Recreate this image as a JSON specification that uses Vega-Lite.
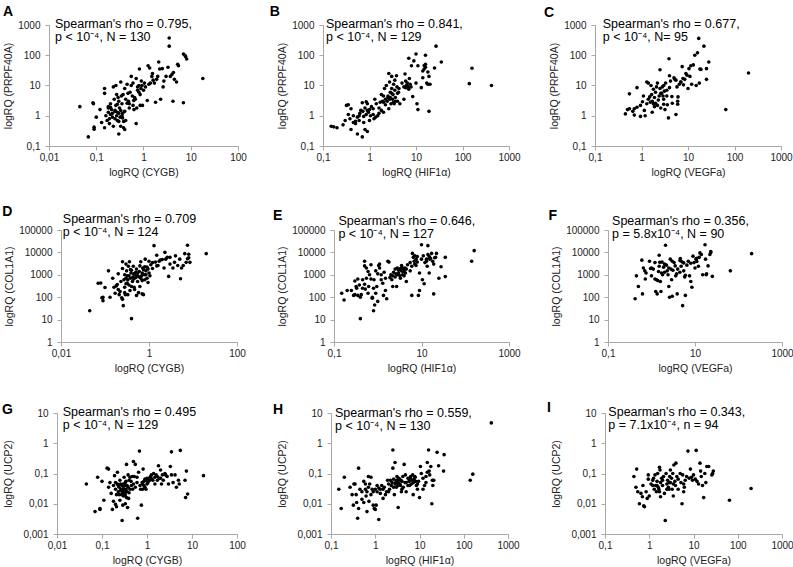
{
"$schema": "https://vega.github.io/schema/vega-lite/v6.json",
"background": "white",
"padding": {"left": 1, "top": 4, "right": 0, "bottom": 0},
"config": {
  "view": {"stroke": null},
  "font": "Liberation Sans",
  "axis": {"grid": false, "domainColor": "#a8a8a8", "tickColor": "#a8a8a8", "tickSize": 4,
    "labelFont": "Liberation Sans", "labelFontSize": 10, "labelColor": "#222",
    "titleFont": "Liberation Sans", "titleFontSize": 10.5, "titleFontWeight": "normal", "titleColor": "#222",
    "labelOverlap": false, "labelFlush": false},
  "axisX": {"titlePadding": 5, "labelPadding": 2},
  "axisY": {"titlePadding": 4, "labelPadding": 5},
  "text": {"font": "Liberation Sans"}
},
"datasets": {
"A": [{"x":0.045,"y":2.0},{"x":0.068,"y":0.2},{"x":0.085,"y":2.7},{"x":0.087,"y":2.5},{"x":0.09,"y":0.42},{"x":0.09,"y":0.36},{"x":0.1,"y":0.9},
{"x":0.12,"y":1.6},{"x":0.13,"y":0.6},{"x":0.15,"y":8},{"x":0.15,"y":5.5},{"x":0.15,"y":0.4},{"x":0.16,"y":1.0},{"x":0.17,"y":0.7},{"x":0.18,"y":1.8},{"x":0.18,"y":2.0},{"x":0.18,"y":1.3},{"x":0.19,"y":0.55},{"x":0.19,"y":0.8},{"x":0.2,"y":2.5},{"x":0.2,"y":1.1},
{"x":0.21,"y":1.6},{"x":0.22,"y":0.9},{"x":0.22,"y":1.2},{"x":0.23,"y":9},{"x":0.23,"y":0.45},{"x":0.24,"y":3.5},{"x":0.25,"y":1.4},{"x":0.25,"y":0.8},{"x":0.26,"y":10},{"x":0.26,"y":2.2},{"x":0.27,"y":1.0},{"x":0.27,"y":5},{"x":0.28,"y":0.7},{"x":0.28,"y":2.4},{"x":0.29,"y":4},{"x":0.3,"y":0.25},{"x":0.3,"y":1.2},{"x":0.3,"y":0.65},{"x":0.3,"y":3},
{"x":0.31,"y":1.8},{"x":0.32,"y":0.9},{"x":0.33,"y":13},{"x":0.33,"y":0.45},{"x":0.34,"y":4.5},{"x":0.35,"y":2.5},{"x":0.35,"y":1.0},{"x":0.36,"y":0.85},{"x":0.37,"y":5},{"x":0.38,"y":0.4},{"x":0.38,"y":0.65},{"x":0.4,"y":0.35},{"x":0.4,"y":8},{"x":0.4,"y":1.4},{"x":0.42,"y":0.7},{"x":0.42,"y":3.5},{"x":0.45,"y":2.6},{"x":0.45,"y":11},{"x":0.47,"y":5.5},{"x":0.48,"y":3},{"x":0.5,"y":1.8},{"x":0.5,"y":2.5},
{"x":0.52,"y":6},{"x":0.55,"y":10},{"x":0.55,"y":20},{"x":0.58,"y":4.5},{"x":0.6,"y":2.2},{"x":0.62,"y":3.2},{"x":0.63,"y":1.6},{"x":0.65,"y":4},{"x":0.67,"y":3.5},{"x":0.7,"y":17},{"x":0.7,"y":0.55},{"x":0.72,"y":1.8},{"x":0.75,"y":9},{"x":0.75,"y":7},{"x":0.8,"y":10},{"x":0.8,"y":6},{"x":0.82,"y":35},{"x":0.85,"y":2.2},{"x":0.88,"y":8},{"x":0.9,"y":14},{"x":0.93,"y":10},{"x":0.95,"y":2.2},
{"x":1.05,"y":12},{"x":1.1,"y":9},{"x":1.2,"y":3.2},{"x":1.25,"y":45},{"x":1.3,"y":11},{"x":1.35,"y":38},{"x":1.4,"y":12},{"x":1.5,"y":20},{"x":1.55,"y":25},{"x":1.6,"y":15},{"x":1.7,"y":12},{"x":1.8,"y":2.8},{"x":1.9,"y":16},{"x":2.0,"y":20},{"x":2.1,"y":60},
{"x":2.2,"y":35},{"x":2.3,"y":3.5},{"x":2.5,"y":36},{"x":2.6,"y":9},{"x":2.7,"y":14},{"x":3,"y":20},{"x":3.3,"y":40},{"x":3.5,"y":370},{"x":3.5,"y":200},{"x":3.7,"y":20},{"x":4,"y":23},{"x":4.2,"y":3},{"x":4.3,"y":27},{"x":4.5,"y":16},{"x":5,"y":13},{"x":5.3,"y":50},{"x":5.5,"y":45},
{"x":7,"y":2.7},{"x":7,"y":110},{"x":7.5,"y":100},{"x":7.8,"y":90},{"x":8.2,"y":75},{"x":18,"y":17},
{"x":0.25,"y":1.5},{"x":0.28,"y":1.3},{"x":0.33,"y":1.5},{"x":0.36,"y":1.2},{"x":0.6,"y":12},{"x":1.0,"y":7},{"x":0.85,"y":5},{"x":0.2,"y":1.9}],
"B": [{"x":0.15,"y":0.45},{"x":0.17,"y":0.43},{"x":0.2,"y":0.4},{"x":0.27,"y":0.5},{"x":0.3,"y":0.7},{"x":0.32,"y":2.2},{"x":0.35,"y":2.3},{"x":0.35,"y":1.1},{"x":0.38,"y":0.8},{"x":0.4,"y":0.35},
{"x":0.4,"y":1.7},{"x":0.45,"y":0.6},{"x":0.45,"y":1.0},{"x":0.5,"y":0.65},{"x":0.55,"y":0.25},{"x":0.55,"y":0.9},{"x":0.6,"y":0.7},{"x":0.62,"y":1.2},{"x":0.65,"y":1.5},{"x":0.7,"y":0.2},
{"x":0.7,"y":2.7},{"x":0.72,"y":1.4},{"x":0.75,"y":0.95},{"x":0.8,"y":0.35},{"x":0.8,"y":1.8},{"x":0.85,"y":2.9},{"x":0.85,"y":1.1},{"x":0.9,"y":0.3},{"x":0.9,"y":2.5},{"x":0.95,"y":1.3},
{"x":1.0,"y":0.7},{"x":1.05,"y":1.0},{"x":1.1,"y":2.0},{"x":1.2,"y":1.7},{"x":1.25,"y":0.8},{"x":1.3,"y":3.5},{"x":1.35,"y":0.9},{"x":1.4,"y":2.5},{"x":1.5,"y":1.0},{"x":1.6,"y":1.8},
{"x":1.7,"y":2.8},{"x":1.8,"y":1.5},{"x":1.8,"y":5},{"x":1.9,"y":3.0},{"x":2.0,"y":1.3},{"x":2.0,"y":4.5},{"x":2.1,"y":8},{"x":2.2,"y":2.3},{"x":2.3,"y":10},{"x":2.4,"y":3},
{"x":2.5,"y":4},{"x":2.6,"y":25},{"x":2.6,"y":1.7},{"x":2.7,"y":13},{"x":2.8,"y":6},{"x":2.9,"y":2.5},{"x":3.0,"y":20},{"x":3.0,"y":8},{"x":3.1,"y":3.5},{"x":3.2,"y":5},
{"x":3.3,"y":11},{"x":3.4,"y":2.5},{"x":3.5,"y":7},{"x":3.5,"y":15},{"x":3.6,"y":4},{"x":3.8,"y":21},{"x":3.9,"y":9},{"x":4.0,"y":3},{"x":4.2,"y":6},{"x":4.3,"y":8},
{"x":4.5,"y":2.5},{"x":5.0,"y":12},{"x":5.5,"y":3.5},{"x":5.8,"y":24},{"x":6.0,"y":14},{"x":6.2,"y":10},{"x":6.5,"y":12},{"x":6.8,"y":9},{"x":7.0,"y":80},{"x":7.2,"y":17},
{"x":7.5,"y":11},{"x":7.8,"y":9},{"x":8.0,"y":45},{"x":8.5,"y":4.3},{"x":9.0,"y":65},{"x":10,"y":110},{"x":10,"y":12},{"x":10.5,"y":2.5},{"x":11,"y":1.6},{"x":11,"y":45},
{"x":13,"y":8.5},{"x":14,"y":18},{"x":15,"y":35},{"x":15,"y":46},{"x":16,"y":100},{"x":16,"y":40},{"x":17,"y":12},{"x":18,"y":28},{"x":18,"y":11},{"x":19,"y":1.4},
{"x":19,"y":20},{"x":20,"y":11},{"x":25,"y":38},{"x":27,"y":200},{"x":35,"y":60},{"x":140,"y":11.5},{"x":160,"y":37},{"x":420,"y":10},
{"x":2.5,"y":4.5},{"x":2.7,"y":3.5},{"x":3.0,"y":5.5},{"x":3.3,"y":2.8},{"x":2.2,"y":3.5},{"x":1.6,"y":1.2},{"x":1.2,"y":1.1},{"x":0.9,"y":1.5},{"x":0.6,"y":1.0},{"x":0.5,"y":0.55},
{"x":5.5,"y":9},{"x":6,"y":8.5},{"x":7,"y":7.5},{"x":4,"y":5.5},{"x":3.6,"y":3},{"x":2.0,"y":2.8},{"x":14,"y":30},{"x":16,"y":50},{"x":1.0,"y":1.6},{"x":0.75,"y":0.6},{"x":2.8,"y":4}],
"C": [{"x":0.45,"y":1.15},{"x":0.5,"y":1.6},{"x":0.55,"y":5.3},{"x":0.55,"y":1.7},{"x":0.65,"y":1.4},{"x":0.7,"y":1.05},{"x":0.7,"y":1.7},{"x":0.8,"y":1.9},{"x":0.8,"y":8.5},{"x":0.95,"y":0.95},
{"x":0.95,"y":2.2},{"x":1.05,"y":2.9},{"x":1.1,"y":4.5},{"x":1.15,"y":1.5},{"x":1.2,"y":1.0},{"x":1.3,"y":13},{"x":1.3,"y":2.5},{"x":1.4,"y":3.5},{"x":1.4,"y":12},{"x":1.5,"y":4.2},
{"x":1.55,"y":2.8},{"x":1.6,"y":10},{"x":1.65,"y":5},{"x":1.7,"y":1.3},{"x":1.7,"y":3},{"x":1.8,"y":2.5},{"x":1.8,"y":7.5},{"x":1.9,"y":4},{"x":2.0,"y":2.6},{"x":2.0,"y":6},
{"x":2.1,"y":9},{"x":2.2,"y":2.2},{"x":2.3,"y":3.3},{"x":2.5,"y":33},{"x":2.5,"y":8},{"x":2.6,"y":1.8},{"x":2.7,"y":5.5},{"x":2.8,"y":9},{"x":2.9,"y":4.5},{"x":3.0,"y":2.4},
{"x":3.0,"y":10},{"x":3.1,"y":6.5},{"x":3.2,"y":1.6},{"x":3.3,"y":12},{"x":3.5,"y":7},{"x":3.6,"y":2.3},{"x":3.8,"y":0.85},{"x":3.9,"y":77},{"x":4.0,"y":21},{"x":4.0,"y":8.5},
{"x":4.2,"y":14},{"x":4.5,"y":4.3},{"x":4.6,"y":2.6},{"x":5.0,"y":18},{"x":5.2,"y":16},{"x":5.5,"y":1.1},{"x":5.8,"y":9},{"x":6.0,"y":3.0},{"x":6.0,"y":2.4},{"x":6.1,"y":4.2},
{"x":6.5,"y":11},{"x":7.0,"y":13},{"x":7.5,"y":42},{"x":7.8,"y":17},{"x":8.0,"y":10.5},{"x":8.5,"y":16},{"x":9.0,"y":25},{"x":9.5,"y":22},{"x":10,"y":8},{"x":10.5,"y":36},
{"x":11,"y":20},{"x":11.5,"y":45},{"x":12,"y":11},{"x":13,"y":48},{"x":14,"y":100},{"x":15,"y":10},{"x":16,"y":120},{"x":17,"y":360},{"x":17.5,"y":12},{"x":18,"y":35},
{"x":19,"y":34},{"x":22,"y":200},{"x":25,"y":16},{"x":25,"y":36},{"x":28,"y":60},{"x":65,"y":1.6},{"x":200,"y":26},
{"x":2.4,"y":4.5},{"x":2.6,"y":5.5},{"x":1.9,"y":2.0},{"x":3.5,"y":4.5},{"x":2.2,"y":12},{"x":5.5,"y":15},{"x":7,"y":13},{"x":3.0,"y":3.5}],
"D": [{"x":0.045,"y":25},{"x":0.07,"y":420},{"x":0.08,"y":430},{"x":0.085,"y":95},{"x":0.09,"y":100},{"x":0.09,"y":70},{"x":0.1,"y":270},
{"x":0.12,"y":1500},{"x":0.13,"y":100},{"x":0.15,"y":700},{"x":0.16,"y":280},{"x":0.17,"y":150},{"x":0.18,"y":320},{"x":0.19,"y":370},{"x":0.2,"y":220},{"x":0.2,"y":1100},
{"x":0.21,"y":130},{"x":0.22,"y":180},{"x":0.23,"y":500},{"x":0.24,"y":95},{"x":0.25,"y":3800},{"x":0.25,"y":80},{"x":0.25,"y":1900},{"x":0.26,"y":42},
{"x":0.27,"y":600},{"x":0.28,"y":280},{"x":0.28,"y":1000},{"x":0.29,"y":130},{"x":0.3,"y":3000},{"x":0.3,"y":700},{"x":0.31,"y":1500},{"x":0.32,"y":430},{"x":0.33,"y":130},{"x":0.33,"y":600},
{"x":0.34,"y":2400},{"x":0.35,"y":900},{"x":0.36,"y":3800},{"x":0.37,"y":200},{"x":0.38,"y":700},{"x":0.39,"y":1200},{"x":0.4,"y":11},{"x":0.4,"y":1600},{"x":0.42,"y":500},{"x":0.43,"y":800},
{"x":0.44,"y":2400},{"x":0.45,"y":650},{"x":0.46,"y":280},{"x":0.48,"y":1000},{"x":0.5,"y":750},{"x":0.52,"y":120},{"x":0.52,"y":1800},{"x":0.55,"y":900},{"x":0.6,"y":1400},{"x":0.62,"y":300},
{"x":0.65,"y":3800},{"x":0.65,"y":700},{"x":0.7,"y":140},{"x":0.7,"y":1200},{"x":0.72,"y":2000},{"x":0.75,"y":130},{"x":0.78,"y":1000},{"x":0.8,"y":600},{"x":0.8,"y":2300},{"x":0.82,"y":5000},
{"x":0.85,"y":1500},{"x":0.9,"y":700},{"x":0.95,"y":450},{"x":1.0,"y":1200},{"x":1.0,"y":4000},{"x":1.2,"y":3500},{"x":1.3,"y":20000},{"x":1.4,"y":3700},{"x":1.5,"y":7500},{"x":1.6,"y":2600},
{"x":1.7,"y":4000},{"x":1.8,"y":4500},{"x":2.0,"y":4800},{"x":2.2,"y":2000},{"x":2.3,"y":10000},{"x":2.4,"y":5000},{"x":2.6,"y":6000},{"x":2.8,"y":850},{"x":3.0,"y":3000},{"x":3.0,"y":6000},
{"x":3.5,"y":2000},{"x":3.8,"y":3600},{"x":4.0,"y":7000},{"x":4.5,"y":2600},{"x":5.0,"y":5000},{"x":5.2,"y":670},{"x":5.5,"y":2000},{"x":6.0,"y":2600},{"x":6.5,"y":8800},{"x":7,"y":3600},
{"x":7.5,"y":5200},{"x":7.5,"y":21000},{"x":8,"y":5800},{"x":8,"y":8300},{"x":8.5,"y":3600},{"x":20,"y":8800},
{"x":0.3,"y":400},{"x":0.35,"y":350},{"x":0.4,"y":300},{"x":0.45,"y":1100},{"x":0.5,"y":1300},{"x":0.55,"y":500},{"x":0.6,"y":800},{"x":0.62,"y":2500},{"x":0.68,"y":900},{"x":0.75,"y":1700},
{"x":0.85,"y":1000},{"x":0.9,"y":2200},{"x":0.38,"y":1700},{"x":0.28,"y":160},{"x":0.32,"y":900},{"x":1.1,"y":2800},{"x":1.2,"y":1900},{"x":1.5,"y":2500},{"x":0.7,"y":550},{"x":0.55,"y":1200},
{"x":0.47,"y":220},{"x":0.58,"y":160},{"x":0.95,"y":1800},{"x":1.05,"y":900}],
"E": [{"x":0.15,"y":150},{"x":0.17,"y":75},{"x":0.2,"y":200},{"x":0.25,"y":200},{"x":0.28,"y":120},{"x":0.3,"y":530},{"x":0.3,"y":130},{"x":0.32,"y":300},{"x":0.33,"y":250},{"x":0.35,"y":650},
{"x":0.35,"y":120},{"x":0.38,"y":350},{"x":0.4,"y":11},{"x":0.4,"y":100},{"x":0.42,"y":130},{"x":0.45,"y":600},{"x":0.5,"y":4000},{"x":0.5,"y":2500},{"x":0.5,"y":380},{"x":0.52,"y":230},
{"x":0.55,"y":2000},{"x":0.55,"y":700},{"x":0.6,"y":1400},{"x":0.6,"y":150},{"x":0.62,"y":300},{"x":0.65,"y":1000},{"x":0.7,"y":650},{"x":0.75,"y":90},{"x":0.75,"y":100},{"x":0.8,"y":25},
{"x":0.8,"y":250},{"x":0.82,"y":600},{"x":0.85,"y":45},{"x":0.9,"y":150},{"x":0.95,"y":300},{"x":1.0,"y":1100},{"x":1.0,"y":65},{"x":1.05,"y":2600},{"x":1.1,"y":3000},{"x":1.1,"y":2000},
{"x":1.2,"y":1000},{"x":1.3,"y":420},{"x":1.35,"y":120},{"x":1.4,"y":1300},{"x":1.5,"y":700},{"x":1.6,"y":85},{"x":1.7,"y":4000},{"x":1.8,"y":3700},{"x":1.9,"y":750},{"x":2.0,"y":1000},
{"x":2.1,"y":600},{"x":2.2,"y":300},{"x":2.3,"y":1300},{"x":2.5,"y":1800},{"x":2.6,"y":1100},{"x":2.7,"y":300},{"x":2.8,"y":2000},{"x":3.0,"y":1600},{"x":3.2,"y":900},{"x":3.3,"y":1900},
{"x":3.5,"y":1500},{"x":3.6,"y":2100},{"x":3.7,"y":1000},{"x":3.8,"y":1400},{"x":4.0,"y":1500},{"x":4.2,"y":2000},{"x":4.3,"y":1200},{"x":4.5,"y":500},{"x":5.5,"y":3500},{"x":6.0,"y":120},
{"x":6.0,"y":2400},{"x":6.2,"y":9000},{"x":6.5,"y":6000},{"x":6.8,"y":4000},{"x":7.0,"y":3000},{"x":7.5,"y":5000},{"x":8.0,"y":3700},{"x":8.5,"y":120},{"x":9,"y":1200},{"x":9,"y":200},
{"x":10,"y":22000},{"x":10,"y":5000},{"x":10.5,"y":600},{"x":11,"y":7000},{"x":11.5,"y":400},{"x":13,"y":4000},{"x":13.5,"y":2400},{"x":14,"y":20000},{"x":14,"y":8000},{"x":15,"y":1200},
{"x":15.5,"y":5000},{"x":16,"y":5500},{"x":17,"y":9000},{"x":18,"y":4000},{"x":19,"y":3000},{"x":19,"y":140},{"x":20,"y":5800},{"x":21,"y":6000},{"x":22,"y":9000},{"x":25,"y":700},
{"x":28,"y":2300},{"x":35,"y":6000},{"x":35,"y":830},{"x":140,"y":4000},{"x":160,"y":12000},
{"x":2.5,"y":800},{"x":3.0,"y":1200},{"x":3.3,"y":700},{"x":3.5,"y":2600},{"x":4.0,"y":900},{"x":4.5,"y":1800},{"x":3.8,"y":1700},{"x":2.8,"y":1000},{"x":2.2,"y":900},{"x":1.2,"y":600},
{"x":1.5,"y":200},{"x":0.9,"y":1500},{"x":0.7,"y":2800},{"x":0.45,"y":250},{"x":7.0,"y":7000},{"x":7.5,"y":2600},{"x":8,"y":6500},{"x":12,"y":3500},{"x":13,"y":5000},{"x":15,"y":6500},
{"x":5.5,"y":1500},{"x":4.8,"y":2800}],
"F": [{"x":0.42,"y":85},{"x":0.45,"y":900},{"x":0.5,"y":300},{"x":0.6,"y":4500},{"x":0.62,"y":140},{"x":0.65,"y":2000},{"x":0.7,"y":1500},{"x":0.72,"y":650},{"x":0.75,"y":1200},{"x":0.9,"y":4000},
{"x":0.95,"y":1900},{"x":1.0,"y":2000},{"x":1.1,"y":1800},{"x":1.2,"y":3500},{"x":1.2,"y":650},{"x":1.25,"y":180},{"x":1.3,"y":600},{"x":1.35,"y":140},{"x":1.4,"y":550},{"x":1.45,"y":1400},
{"x":1.5,"y":7500},{"x":1.55,"y":3600},{"x":1.6,"y":500},{"x":1.65,"y":180},{"x":1.7,"y":1200},{"x":1.75,"y":3700},{"x":1.8,"y":1000},{"x":1.9,"y":2200},{"x":2.0,"y":1300},{"x":2.1,"y":21000},
{"x":2.2,"y":2700},{"x":2.3,"y":1500},{"x":2.4,"y":1000},{"x":2.5,"y":300},{"x":2.6,"y":100},{"x":2.7,"y":5000},{"x":2.8,"y":1800},{"x":2.9,"y":600},{"x":3.0,"y":110},{"x":3.1,"y":1600},
{"x":3.3,"y":3500},{"x":3.5,"y":2500},{"x":3.6,"y":900},{"x":3.8,"y":1100},{"x":3.9,"y":140},{"x":4.5,"y":4300},{"x":4.5,"y":1300},{"x":4.6,"y":5300},{"x":4.8,"y":2400},{"x":5.0,"y":3800},
{"x":5.2,"y":42},{"x":5.5,"y":3400},{"x":5.8,"y":800},{"x":6.0,"y":950},{"x":6.0,"y":120},{"x":6.5,"y":2700},{"x":7.0,"y":4000},{"x":7.5,"y":900},{"x":8.0,"y":500},{"x":8.5,"y":280},
{"x":9.0,"y":6800},{"x":9.5,"y":3500},{"x":10,"y":2000},{"x":10.5,"y":5000},{"x":11,"y":5500},{"x":12,"y":2400},{"x":12.5,"y":6000},{"x":13,"y":9500},{"x":14,"y":8000},{"x":15,"y":1000},
{"x":17,"y":22000},{"x":17.5,"y":5000},{"x":18,"y":1000},{"x":18.5,"y":1100},{"x":20,"y":2500},{"x":22,"y":8000},{"x":23,"y":11000},{"x":23,"y":10000},{"x":25,"y":850},{"x":65,"y":1500},{"x":200,"y":8800},
{"x":1.0,"y":900},{"x":1.5,"y":2400},{"x":2.0,"y":3000},{"x":2.5,"y":2000},{"x":3.0,"y":4000},{"x":4.0,"y":1800},{"x":5.5,"y":1500},{"x":8.0,"y":3300},{"x":11,"y":3900}],
"G": [{"x":0.045,"y":0.045},{"x":0.07,"y":0.0055},{"x":0.08,"y":0.075},{"x":0.09,"y":0.007},{"x":0.09,"y":0.0065},{"x":0.1,"y":0.055},{"x":0.11,"y":0.013},{"x":0.13,"y":0.15},{"x":0.14,"y":0.14},{"x":0.14,"y":0.035},
{"x":0.15,"y":0.05},{"x":0.16,"y":0.022},{"x":0.17,"y":0.0065},{"x":0.18,"y":0.04},{"x":0.18,"y":0.012},{"x":0.19,"y":0.085},{"x":0.2,"y":0.03},{"x":0.2,"y":0.0095},{"x":0.21,"y":0.02},{"x":0.21,"y":0.008},
{"x":0.22,"y":0.11},{"x":0.22,"y":0.045},{"x":0.23,"y":0.025},{"x":0.24,"y":0.035},{"x":0.25,"y":0.013},{"x":0.25,"y":0.06},{"x":0.26,"y":0.028},{"x":0.27,"y":0.02},{"x":0.28,"y":0.0028},{"x":0.28,"y":0.04},
{"x":0.29,"y":0.009},{"x":0.3,"y":0.032},{"x":0.3,"y":0.018},{"x":0.31,"y":0.075},{"x":0.32,"y":0.025},{"x":0.33,"y":0.01},{"x":0.33,"y":0.05},{"x":0.34,"y":0.03},{"x":0.35,"y":0.2},{"x":0.35,"y":0.016},
{"x":0.36,"y":0.04},{"x":0.37,"y":0.0075},{"x":0.38,"y":0.09},{"x":0.4,"y":0.06},{"x":0.4,"y":0.023},{"x":0.42,"y":0.075},{"x":0.45,"y":0.04},{"x":0.47,"y":0.08},{"x":0.5,"y":0.045},{"x":0.5,"y":0.25},
{"x":0.52,"y":0.08},{"x":0.55,"y":0.2},{"x":0.55,"y":0.035},{"x":0.6,"y":0.05},{"x":0.62,"y":0.0033},{"x":0.65,"y":0.11},{"x":0.68,"y":0.55},{"x":0.7,"y":0.04},{"x":0.72,"y":0.03},{"x":0.75,"y":0.009},
{"x":0.78,"y":0.05},{"x":0.8,"y":0.03},{"x":0.82,"y":0.14},{"x":0.85,"y":0.04},{"x":0.9,"y":0.065},{"x":0.95,"y":0.06},{"x":1.0,"y":0.07},{"x":1.05,"y":0.05},{"x":1.1,"y":0.07},{"x":1.2,"y":0.08},
{"x":1.3,"y":0.065},{"x":1.4,"y":0.1},{"x":1.5,"y":0.045},{"x":1.6,"y":0.09},{"x":1.7,"y":0.06},{"x":1.8,"y":0.18},{"x":1.9,"y":0.07},{"x":2.0,"y":0.13},{"x":2.1,"y":0.045},{"x":2.2,"y":0.09},
{"x":2.5,"y":0.1},{"x":2.8,"y":0.08},{"x":3.0,"y":0.045},{"x":3.3,"y":0.17},{"x":3.5,"y":0.52},{"x":3.5,"y":0.09},{"x":3.8,"y":0.05},{"x":4.2,"y":0.09},{"x":4.5,"y":0.035},{"x":5.0,"y":0.06},
{"x":5.5,"y":0.58},{"x":5.2,"y":0.045},{"x":7.0,"y":0.06},{"x":7.2,"y":0.016},{"x":7.5,"y":0.12},{"x":8.0,"y":0.021},{"x":18,"y":0.085},
{"x":0.24,"y":0.02},{"x":0.26,"y":0.045},{"x":0.27,"y":0.03},{"x":0.29,"y":0.022},{"x":0.3,"y":0.045},{"x":0.31,"y":0.028},{"x":0.32,"y":0.04},{"x":0.33,"y":0.02},{"x":0.34,"y":0.055},{"x":0.36,"y":0.025},
{"x":0.38,"y":0.035},{"x":0.39,"y":0.015},{"x":0.42,"y":0.03},{"x":0.44,"y":0.055},{"x":0.48,"y":0.03},{"x":0.23,"y":0.04},{"x":0.28,"y":0.025},{"x":0.8,"y":0.045},{"x":0.85,"y":0.055},{"x":0.9,"y":0.035},
{"x":1.0,"y":0.045},{"x":1.15,"y":0.06},{"x":1.25,"y":0.09},{"x":1.35,"y":0.06},{"x":1.5,"y":0.075},{"x":1.7,"y":0.08},{"x":2.0,"y":0.07},{"x":2.3,"y":0.06},{"x":2.6,"y":0.09},{"x":0.95,"y":0.03},
{"x":0.6,"y":0.075},{"x":0.2,"y":0.05}],
"H": [{"x":0.15,"y":0.03},{"x":0.17,"y":0.007},{"x":0.2,"y":0.075},{"x":0.27,"y":0.035},{"x":0.3,"y":0.02},{"x":0.32,"y":0.009},{"x":0.33,"y":0.045},{"x":0.35,"y":0.045},{"x":0.37,"y":0.02},{"x":0.38,"y":0.011},
{"x":0.4,"y":0.0033},{"x":0.42,"y":0.15},{"x":0.42,"y":0.007},{"x":0.45,"y":0.03},{"x":0.5,"y":0.014},{"x":0.5,"y":0.025},{"x":0.55,"y":0.055},{"x":0.55,"y":0.011},{"x":0.6,"y":0.03},{"x":0.62,"y":0.018},
{"x":0.65,"y":0.025},{"x":0.65,"y":0.0055},{"x":0.7,"y":0.08},{"x":0.7,"y":0.035},{"x":0.72,"y":0.012},{"x":0.75,"y":0.045},{"x":0.8,"y":0.075},{"x":0.8,"y":0.02},{"x":0.85,"y":0.03},{"x":0.9,"y":0.009},
{"x":0.95,"y":0.007},{"x":1.0,"y":0.03},{"x":1.0,"y":0.0065},{"x":1.05,"y":0.009},{"x":1.1,"y":0.025},{"x":1.2,"y":0.003},{"x":1.2,"y":0.033},{"x":1.3,"y":0.03},{"x":1.4,"y":0.04},{"x":1.5,"y":0.015},
{"x":1.6,"y":0.035},{"x":1.8,"y":0.025},{"x":1.9,"y":0.06},{"x":2.0,"y":0.045},{"x":2.1,"y":0.03},{"x":2.3,"y":0.04},{"x":2.5,"y":0.15},{"x":2.5,"y":0.6},{"x":2.6,"y":0.065},{"x":2.7,"y":0.02},
{"x":2.8,"y":0.23},{"x":2.9,"y":0.05},{"x":3.0,"y":0.035},{"x":3.1,"y":0.08},{"x":3.2,"y":0.055},{"x":3.3,"y":0.0075},{"x":3.4,"y":0.07},{"x":3.6,"y":0.045},{"x":3.8,"y":0.06},{"x":4.0,"y":0.03},
{"x":4.2,"y":0.08},{"x":4.5,"y":0.2},{"x":4.7,"y":0.05},{"x":5.0,"y":0.025},{"x":5.5,"y":0.07},{"x":6.0,"y":0.065},{"x":6.3,"y":0.08},{"x":6.5,"y":0.045},{"x":7.0,"y":0.09},{"x":7.2,"y":0.02},
{"x":7.5,"y":0.065},{"x":8.0,"y":0.075},{"x":8.5,"y":0.04},{"x":9.0,"y":0.03},{"x":9.5,"y":0.055},{"x":10,"y":0.016},{"x":10.5,"y":0.17},{"x":11,"y":0.1},{"x":12,"y":0.03},{"x":13,"y":0.04},
{"x":14,"y":0.08},{"x":15,"y":0.23},{"x":15,"y":0.11},{"x":16,"y":0.6},{"x":16.5,"y":0.12},{"x":18,"y":0.17},{"x":19,"y":0.01},{"x":19.5,"y":0.06},{"x":20,"y":0.04},{"x":21,"y":0.06},
{"x":25,"y":0.5},{"x":27,"y":0.18},{"x":35,"y":0.12},{"x":36,"y":0.42},{"x":140,"y":0.06},{"x":160,"y":0.095},{"x":420,"y":4.7},
{"x":2.2,"y":0.06},{"x":2.4,"y":0.05},{"x":2.6,"y":0.035},{"x":2.8,"y":0.045},{"x":3.0,"y":0.06},{"x":3.2,"y":0.04},{"x":3.3,"y":0.05},{"x":3.5,"y":0.065},{"x":3.7,"y":0.04},{"x":4.0,"y":0.055},
{"x":4.3,"y":0.035},{"x":5.0,"y":0.05},{"x":5.5,"y":0.04},{"x":5.8,"y":0.055},{"x":6.2,"y":0.07},{"x":6.8,"y":0.06},{"x":7.3,"y":0.05},{"x":7.8,"y":0.08},{"x":8.2,"y":0.055},{"x":9.0,"y":0.045},
{"x":6.0,"y":0.04},{"x":1.5,"y":0.03},{"x":1.7,"y":0.02},{"x":1.3,"y":0.022},{"x":0.9,"y":0.025},{"x":1.1,"y":0.04},{"x":0.6,"y":0.045},{"x":2.0,"y":0.025},{"x":12,"y":0.07},{"x":14,"y":0.05},
{"x":17,"y":0.09},{"x":4.8,"y":0.09},{"x":3.9,"y":0.025}],
"I": [{"x":0.45,"y":0.08},{"x":0.5,"y":0.035},{"x":0.52,"y":0.14},{"x":0.55,"y":0.025},{"x":0.6,"y":0.01},{"x":0.65,"y":0.022},{"x":0.7,"y":0.017},{"x":0.72,"y":0.04},{"x":0.75,"y":0.0085},{"x":0.78,"y":0.008},
{"x":0.85,"y":0.025},{"x":0.9,"y":0.015},{"x":0.95,"y":0.09},{"x":0.95,"y":0.065},{"x":1.0,"y":0.018},{"x":1.1,"y":0.045},{"x":1.2,"y":0.04},{"x":1.25,"y":0.07},{"x":1.3,"y":0.03},{"x":1.35,"y":0.09},
{"x":1.4,"y":0.04},{"x":1.45,"y":0.025},{"x":1.5,"y":0.055},{"x":1.55,"y":0.1},{"x":1.6,"y":0.035},{"x":1.65,"y":0.03},{"x":1.7,"y":0.16},{"x":1.75,"y":0.13},{"x":1.8,"y":0.017},{"x":1.8,"y":0.05},
{"x":1.9,"y":0.07},{"x":2.0,"y":0.04},{"x":2.1,"y":0.08},{"x":2.2,"y":0.022},{"x":2.3,"y":0.0028},{"x":2.4,"y":0.1},{"x":2.5,"y":0.045},{"x":2.6,"y":0.06},{"x":2.7,"y":0.035},{"x":2.8,"y":0.03},
{"x":2.9,"y":0.08},{"x":3.0,"y":0.13},{"x":3.0,"y":0.05},{"x":3.2,"y":0.07},{"x":3.3,"y":0.03},{"x":3.4,"y":0.1},{"x":3.5,"y":0.018},{"x":3.6,"y":0.19},{"x":3.8,"y":0.055},{"x":3.9,"y":0.04},
{"x":4.0,"y":0.22},{"x":4.2,"y":0.08},{"x":4.5,"y":0.065},{"x":5.0,"y":0.1},{"x":5.2,"y":0.05},{"x":5.5,"y":0.01},{"x":5.7,"y":0.09},{"x":6.0,"y":0.025},{"x":6.2,"y":0.035},{"x":6.5,"y":0.06},
{"x":7.0,"y":0.08},{"x":7.5,"y":0.55},{"x":8.0,"y":0.07},{"x":8.5,"y":0.14},{"x":9.0,"y":0.075},{"x":9.5,"y":0.06},{"x":10,"y":0.09},{"x":11,"y":0.065},{"x":11.5,"y":0.58},{"x":12,"y":0.055},
{"x":13,"y":0.045},{"x":14,"y":0.22},{"x":14.5,"y":0.12},{"x":15,"y":0.08},{"x":16,"y":0.04},{"x":17,"y":0.016},{"x":18,"y":0.1},{"x":19,"y":0.05},{"x":20,"y":0.17},{"x":22,"y":0.17},
{"x":26,"y":0.09},{"x":27,"y":0.1},{"x":28,"y":0.12},{"x":65,"y":0.013},{"x":200,"y":0.032},
{"x":1.5,"y":0.04},{"x":2.0,"y":0.06},{"x":2.5,"y":0.03},{"x":2.8,"y":0.05},{"x":3.5,"y":0.045},{"x":1.7,"y":0.025},{"x":6.0,"y":0.045},{"x":4.5,"y":0.03},{"x":1.2,"y":0.06}]
},
"spacing": 26,
"vconcat": [
{"hconcat": [
 {"width": 1, "height": 1, "data": {"values": []}, "mark": "point"},
 {"hconcat": [
 {"width": 189, "height": 121, "layer": [
  {"data": {"name": "A"}, "mark": {"type": "circle", "size": 13, "color": "#000", "opacity": 1},
   "encoding": {
    "x": {"field": "x", "type": "quantitative", "scale": {"type": "log", "domain": [0.01, 100], "nice": false}, "axis": {"title": "logRQ (CYGB)", "values": [0.01, 0.1, 1, 10, 100], "format": "~g", "labelExpr": "replace(datum.label, '.', ',')"}},
    "y": {"field": "y", "type": "quantitative", "scale": {"type": "log", "domain": [0.1, 1000], "nice": false}, "axis": {"title": "logRQ (PRPF40A)", "values": [0.1, 1, 10, 100, 1000], "format": "~g", "labelExpr": "replace(datum.label, '.', ',')"}}}},
  {"data": {"values": [{}]}, "mark": {"type": "text", "text": ["Spearman's rho = 0.795,", "p < 10⁻⁴, N = 130"], "align": "left", "baseline": "alphabetic", "fontSize": 12.5, "lineHeight": 13, "color": "#000"},
   "encoding": {"x": {"datum": 0.0134}, "y": {"datum": 815}}},
  {"data": {"values": [{}]}, "mark": {"type": "text", "text": "A", "align": "left", "baseline": "alphabetic", "fontSize": 14, "fontWeight": "bold", "color": "#000"},
   "encoding": {"x": {"datum": 0.00106}, "y": {"datum": 2000}}}
 ]},
 {"width": 186, "height": 121, "layer": [
  {"data": {"name": "B"}, "mark": {"type": "circle", "size": 13, "color": "#000", "opacity": 1},
   "encoding": {
    "x": {"field": "x", "type": "quantitative", "scale": {"type": "log", "domain": [0.1, 1000], "nice": false}, "axis": {"title": "logRQ (HIF1α)", "values": [0.1, 1, 10, 100, 1000], "format": "~g", "labelExpr": "replace(datum.label, '.', ',')"}},
    "y": {"field": "y", "type": "quantitative", "scale": {"type": "log", "domain": [0.1, 1000], "nice": false}, "axis": {"title": "logRQ (PRPF40A)", "values": [0.1, 1, 10, 100, 1000], "format": "~g", "labelExpr": "replace(datum.label, '.', ',')"}}}},
  {"data": {"values": [{}]}, "mark": {"type": "text", "text": ["Spearman's rho = 0.841,", "p < 10⁻⁴, N = 129"], "align": "left", "baseline": "alphabetic", "fontSize": 12.5, "lineHeight": 13, "color": "#000"},
   "encoding": {"x": {"datum": 0.116}, "y": {"datum": 815}}},
  {"data": {"values": [{}]}, "mark": {"type": "text", "text": "B", "align": "left", "baseline": "alphabetic", "fontSize": 14, "fontWeight": "bold", "color": "#000"},
   "encoding": {"x": {"datum": 0.0072}, "y": {"datum": 2000}}}
 ]},
 {"width": 186, "height": 121, "layer": [
  {"data": {"name": "C"}, "mark": {"type": "circle", "size": 13, "color": "#000", "opacity": 1},
   "encoding": {
    "x": {"field": "x", "type": "quantitative", "scale": {"type": "log", "domain": [0.1, 1000], "nice": false}, "axis": {"title": "logRQ (VEGFa)", "values": [0.1, 1, 10, 100, 1000], "format": "~g", "labelExpr": "replace(datum.label, '.', ',')"}},
    "y": {"field": "y", "type": "quantitative", "scale": {"type": "log", "domain": [0.1, 1000], "nice": false}, "axis": {"title": "logRQ (PRPF40A)", "values": [0.1, 1, 10, 100, 1000], "format": "~g", "labelExpr": "replace(datum.label, '.', ',')"}}}},
  {"data": {"values": [{}]}, "mark": {"type": "text", "text": ["Spearman's rho = 0.677,", "p < 10⁻⁴, N= 95"], "align": "left", "baseline": "alphabetic", "fontSize": 12.5, "lineHeight": 13, "color": "#000"},
   "encoding": {"x": {"datum": 0.147}, "y": {"datum": 815}}},
  {"data": {"values": [{}]}, "mark": {"type": "text", "text": "C", "align": "left", "baseline": "alphabetic", "fontSize": 14, "fontWeight": "bold", "color": "#000"},
   "encoding": {"x": {"datum": 0.008}, "y": {"datum": 1880}}}
 ]}
 ], "spacing": 22}
], "spacing": 0},
{"hconcat": [
 {"width": 1, "height": 1, "data": {"values": []}, "mark": "point"},
 {"hconcat": [
 {"width": 176, "height": 112, "layer": [
  {"data": {"name": "D"}, "mark": {"type": "circle", "size": 13, "color": "#000", "opacity": 1},
   "encoding": {
    "x": {"field": "x", "type": "quantitative", "scale": {"type": "log", "domain": [0.01, 100], "nice": false}, "axis": {"title": "logRQ (CYGB)", "values": [0.01, 1, 100], "format": "~g", "labelExpr": "replace(datum.label, '.', ',')"}},
    "y": {"field": "y", "type": "quantitative", "scale": {"type": "log", "domain": [1, 100000], "nice": false}, "axis": {"title": "logRQ (COL1A1)", "values": [1, 10, 100, 1000, 10000, 100000], "format": "~g", "labelExpr": "replace(datum.label, '.', ',')"}}}},
  {"data": {"values": [{}]}, "mark": {"type": "text", "text": ["Spearman's rho = 0.709", "p < 10⁻⁴, N = 124"], "align": "left", "baseline": "alphabetic", "fontSize": 12.5, "lineHeight": 13, "color": "#000"},
   "encoding": {"x": {"datum": 0.011}, "y": {"datum": 212000}}},
  {"data": {"values": [{}]}, "mark": {"type": "text", "text": "D", "align": "left", "baseline": "alphabetic", "fontSize": 14, "fontWeight": "bold", "color": "#000"},
   "encoding": {"x": {"datum": 0.00046}, "y": {"datum": 422000}}}
 ]},
 {"width": 175, "height": 112, "layer": [
  {"data": {"name": "E"}, "mark": {"type": "circle", "size": 13, "color": "#000", "opacity": 1},
   "encoding": {
    "x": {"field": "x", "type": "quantitative", "scale": {"type": "log", "domain": [0.1, 1000], "nice": false}, "axis": {"title": "logRQ (HIF1α)", "values": [0.1, 10, 1000], "format": "~g", "labelExpr": "replace(datum.label, '.', ',')"}},
    "y": {"field": "y", "type": "quantitative", "scale": {"type": "log", "domain": [1, 100000], "nice": false}, "axis": {"title": "logRQ (COL1A1)", "values": [1, 10, 100, 1000, 10000, 100000], "format": "~g", "labelExpr": "replace(datum.label, '.', ',')"}}}},
  {"data": {"values": [{}]}, "mark": {"type": "text", "text": ["Spearman's rho = 0.646,", "p < 10⁻⁴, N = 127"], "align": "left", "baseline": "alphabetic", "fontSize": 12.5, "lineHeight": 13, "color": "#000"},
   "encoding": {"x": {"datum": 0.126}, "y": {"datum": 167000}}},
  {"data": {"values": [{}]}, "mark": {"type": "text", "text": "E", "align": "left", "baseline": "alphabetic", "fontSize": 14, "fontWeight": "bold", "color": "#000"},
   "encoding": {"x": {"datum": 0.00404}, "y": {"datum": 279000}}}
 ]},
 {"width": 174, "height": 112, "layer": [
  {"data": {"name": "F"}, "mark": {"type": "circle", "size": 13, "color": "#000", "opacity": 1},
   "encoding": {
    "x": {"field": "x", "type": "quantitative", "scale": {"type": "log", "domain": [0.1, 1000], "nice": false}, "axis": {"title": "logRQ (VEGFa)", "values": [0.1, 10, 1000], "format": "~g", "labelExpr": "replace(datum.label, '.', ',')"}},
    "y": {"field": "y", "type": "quantitative", "scale": {"type": "log", "domain": [1, 100000], "nice": false}, "axis": {"title": "logRQ (COL1A1)", "values": [1, 10, 100, 1000, 10000, 100000], "format": "~g", "labelExpr": "replace(datum.label, '.', ',')"}}}},
  {"data": {"values": [{}]}, "mark": {"type": "text", "text": ["Spearman's rho = 0.356,", "p = 5.8x10⁻⁴, N = 90"], "align": "left", "baseline": "alphabetic", "fontSize": 12.5, "lineHeight": 13, "color": "#000"},
   "encoding": {"x": {"datum": 0.124}, "y": {"datum": 167000}}},
  {"data": {"values": [{}]}, "mark": {"type": "text", "text": "F", "align": "left", "baseline": "alphabetic", "fontSize": 14, "fontWeight": "bold", "color": "#000"},
   "encoding": {"x": {"datum": 0.0043}, "y": {"datum": 279000}}}
 ]}
 ], "spacing": 27}
], "spacing": 0},
{"hconcat": [
 {"width": 1, "height": 1, "data": {"values": []}, "mark": "point"},
 {"hconcat": [
 {"width": 180, "height": 121, "layer": [
  {"data": {"name": "G"}, "mark": {"type": "circle", "size": 13, "color": "#000", "opacity": 1},
   "encoding": {
    "x": {"field": "x", "type": "quantitative", "scale": {"type": "log", "domain": [0.01, 100], "nice": false}, "axis": {"title": "logRQ (CYGB)", "values": [0.01, 0.1, 1, 10, 100], "format": "~g", "labelExpr": "replace(datum.label, '.', ',')"}},
    "y": {"field": "y", "type": "quantitative", "scale": {"type": "log", "domain": [0.001, 10], "nice": false}, "axis": {"title": "logRQ (UCP2)", "titlePadding": 9, "values": [0.001, 0.01, 0.1, 1, 10], "format": "~g", "labelExpr": "replace(datum.label, '.', ',')"}}}},
  {"data": {"values": [{}]}, "mark": {"type": "text", "text": ["Spearman's rho = 0.495", "p < 10⁻⁴, N = 129"], "align": "left", "baseline": "alphabetic", "fontSize": 12.5, "lineHeight": 13, "color": "#000"},
   "encoding": {"x": {"datum": 0.0134}, "y": {"datum": 7.8}}},
  {"data": {"values": [{}]}, "mark": {"type": "text", "text": "G", "align": "left", "baseline": "alphabetic", "fontSize": 14, "fontWeight": "bold", "color": "#000"},
   "encoding": {"x": {"datum": 0.0006}, "y": {"datum": 9.3}}}
 ]},
 {"width": 177, "height": 121, "layer": [
  {"data": {"name": "H"}, "mark": {"type": "circle", "size": 13, "color": "#000", "opacity": 1},
   "encoding": {
    "x": {"field": "x", "type": "quantitative", "scale": {"type": "log", "domain": [0.1, 1000], "nice": false}, "axis": {"title": "logRQ (HIF1α)", "values": [0.1, 1, 10, 100, 1000], "format": "~g", "labelExpr": "replace(datum.label, '.', ',')"}},
    "y": {"field": "y", "type": "quantitative", "scale": {"type": "log", "domain": [0.001, 10], "nice": false}, "axis": {"title": "logRQ (UCP2)", "titlePadding": 9, "values": [0.001, 0.01, 0.1, 1, 10], "format": "~g", "labelExpr": "replace(datum.label, '.', ',')"}}}},
  {"data": {"values": [{}]}, "mark": {"type": "text", "text": ["Spearman's rho = 0.559,", "p < 10⁻⁴, N = 130"], "align": "left", "baseline": "alphabetic", "fontSize": 12.5, "lineHeight": 13, "color": "#000"},
   "encoding": {"x": {"datum": 0.123}, "y": {"datum": 7.4}}},
  {"data": {"values": [{}]}, "mark": {"type": "text", "text": "H", "align": "left", "baseline": "alphabetic", "fontSize": 14, "fontWeight": "bold", "color": "#000"},
   "encoding": {"x": {"datum": 0.0049}, "y": {"datum": 9.3}}}
 ]},
 {"width": 177, "height": 121, "layer": [
  {"data": {"name": "I"}, "mark": {"type": "circle", "size": 13, "color": "#000", "opacity": 1},
   "encoding": {
    "x": {"field": "x", "type": "quantitative", "scale": {"type": "log", "domain": [0.1, 1000], "nice": false}, "axis": {"title": "logRQ (VEGFa)", "values": [0.1, 1, 10, 100, 1000], "format": "~g", "labelExpr": "replace(datum.label, '.', ',')"}},
    "y": {"field": "y", "type": "quantitative", "scale": {"type": "log", "domain": [0.001, 10], "nice": false}, "axis": {"title": "logRQ (UCP2)", "titlePadding": 9, "values": [0.001, 0.01, 0.1, 1, 10], "format": "~g", "labelExpr": "replace(datum.label, '.', ',')"}}}},
  {"data": {"values": [{}]}, "mark": {"type": "text", "text": ["Spearman's rho = 0.343,", "p = 7.1x10⁻⁴, n = 94"], "align": "left", "baseline": "alphabetic", "fontSize": 12.5, "lineHeight": 13, "color": "#000"},
   "encoding": {"x": {"datum": 0.119}, "y": {"datum": 7.8}}},
  {"data": {"values": [{}]}, "mark": {"type": "text", "text": "I", "align": "left", "baseline": "alphabetic", "fontSize": 14, "fontWeight": "bold", "color": "#000"},
   "encoding": {"x": {"datum": 0.0049}, "y": {"datum": 10.8}}}
 ]}
 ], "spacing": 27}
], "spacing": 0}
]
}
